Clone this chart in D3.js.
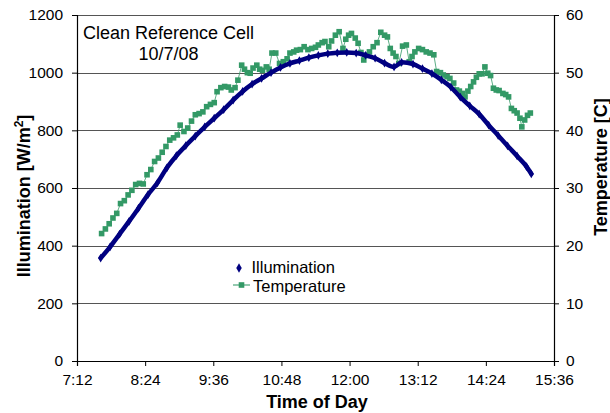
<!DOCTYPE html>
<html>
<head>
<meta charset="utf-8">
<script src="https://cdn.jsdelivr.net/npm/d3@7"></script>
<style>
  body { margin: 0; background: #fff; }
  svg { font-family: "Liberation Sans", Arial, sans-serif; }
  .tick text { font-size: 15.5px; fill: #000; }
  .axis-title { font-size: 18px; font-weight: bold; }
</style>
</head>
<body>
<div id="chart"></div>
<script>
// x tick labels (time of day)
const timeTicks = ["7:12", "8:24", "9:36", "10:48", "12:00", "13:12", "14:24", "15:36"];
const illumTicks = [0, 200, 400, 600, 800, 1000, 1200];
const tempTicks = [0, 10, 20, 30, 40, 50, 60];

// Illumination [W/m2]
const illumTimes = ["7:37", "7:47", "7:57", "8:07", "8:17", "8:27", "8:37", "8:47", "8:57", "9:07",
  "9:17", "9:27", "9:37", "9:47", "9:57", "10:07", "10:17", "10:27", "10:37", "10:47",
  "10:57", "11:07", "11:17", "11:27", "11:37", "11:47", "11:57", "12:07", "12:17", "12:27",
  "12:37", "12:47", "12:55", "13:07", "13:17", "13:27", "13:37", "13:47", "13:57", "14:07",
  "14:17", "14:27", "14:37", "14:47", "14:57", "15:07", "15:12"];
const illumValues = [357, 396, 440, 484, 530, 577, 618, 670, 712, 747,
  780, 812, 842, 872, 905, 935, 960, 980, 1000, 1018,
  1032, 1042, 1052, 1060, 1066, 1069, 1070, 1068, 1060, 1050,
  1033, 1020, 1036, 1030, 1014, 997, 975, 950, 915, 885,
  856, 818, 782, 746, 711, 674, 649];

// Temperature [C]
const tempTimes = ["7:38", "7:42", "7:46", "7:50", "7:54", "7:58", "8:02", "8:06", "8:10", "8:14",
  "8:18", "8:22", "8:26", "8:30", "8:34", "8:38", "8:42", "8:46", "8:50", "8:54",
  "8:58", "9:01", "9:05", "9:09", "9:13", "9:17", "9:21", "9:25", "9:29", "9:33",
  "9:37", "9:40", "9:44", "9:48", "9:52", "9:55", "9:59", "10:02", "10:06", "10:09",
  "10:12", "10:15", "10:18", "10:22", "10:25", "10:28", "10:32", "10:35", "10:38", "10:42",
  "10:46", "10:50", "10:54", "10:57", "11:01", "11:04", "11:08", "11:12", "11:16", "11:20",
  "11:24", "11:27", "11:31", "11:34", "11:38", "11:41", "11:45", "11:49", "11:53", "11:56",
  "11:59", "12:02", "12:06", "12:09", "12:12", "12:15", "12:18", "12:21", "12:25", "12:29",
  "12:33", "12:37", "12:40", "12:43", "12:46", "12:49", "12:52", "12:56", "13:00", "13:03",
  "13:06", "13:09", "13:13", "13:17", "13:21", "13:25", "13:29", "13:32", "13:36", "13:39",
  "13:43", "13:46", "13:50", "13:53", "13:56", "13:59", "14:02", "14:05", "14:08", "14:11",
  "14:14", "14:17", "14:20", "14:23", "14:26", "14:29", "14:32", "14:35", "14:38", "14:42",
  "14:45", "14:48", "14:51", "14:54", "14:57", "15:00", "15:02", "15:05", "15:08", "15:11"];
const tempValues = [22.1, 22.9, 23.8, 24.8, 25.6, 27.3, 27.8, 28.8, 29.6, 30.6,
  30.8, 30.7, 32.3, 33.2, 34.6, 35.2, 36.2, 37.2, 38.3, 38.7,
  39.2, 40.9, 39.8, 40.4, 41.6, 42.7, 42.9, 43.2, 44.1, 44.5,
  44.8, 46.7, 47.4, 47.6, 47.5, 47.0, 47.4, 48.7, 51.3, 50.6,
  50.0, 49.9, 50.8, 51.3, 50.6, 50.4, 51.0, 50.6, 53.4, 53.4,
  51.6, 51.9, 52.4, 53.4, 53.6, 53.9, 54.0, 54.5, 54.0, 54.2,
  54.4, 54.8, 55.2, 55.4, 54.5, 55.5, 56.5, 57.1, 54.2, 55.8,
  56.5, 56.8, 56.0, 55.1, 53.5, 52.2, 53.0, 53.6, 54.5, 55.2,
  57.0, 56.5, 56.2, 54.2, 53.4, 52.8, 51.6, 54.6, 54.8, 51.9,
  52.8, 53.6, 54.2, 54.0, 53.6, 53.4, 53.1, 50.2, 50.0, 49.6,
  49.3, 49.0, 48.2, 47.0, 46.8, 46.4, 45.8, 46.8, 47.6, 48.4,
  49.2, 49.8, 49.8, 51.0, 49.9, 49.5, 47.3, 47.0, 46.9, 46.4,
  46.2, 45.8, 43.8, 43.4, 43.0, 42.1, 40.6, 41.8, 42.6, 43.0];

const svgWidth = 610, svgHeight = 413;
const margin = { top: 15, right: 56, bottom: 52, left: 77 };
const width = svgWidth - margin.left - margin.right;
const height = svgHeight - margin.top - margin.bottom;

const parseTime = d3.timeParse("%H:%M");
const fmtTime = d3.timeFormat("%-H:%M");

const illumColor = "#000080";
const tempColor = "#339966";

const illumData = illumTimes.map((t, i) => ({ time: parseTime(t), value: illumValues[i] }));
const tempData = tempTimes.map((t, i) => ({ time: parseTime(t), value: tempValues[i] }));

const x = d3.scaleTime()
  .domain([parseTime(timeTicks[0]), parseTime(timeTicks[timeTicks.length - 1])])
  .range([0, width]);
const yL = d3.scaleLinear().domain([0, 1200]).range([height, 0]);
const yR = d3.scaleLinear().domain([0, 60]).range([height, 0]);

const svg = d3.select("#chart").append("svg")
  .attr("width", svgWidth)
  .attr("height", svgHeight);

const g = svg.append("g").attr("transform", `translate(${margin.left},${margin.top})`);

// gridlines
g.append("g")
  .selectAll("line")
  .data(illumTicks)
  .enter()
  .append("line")
  .attr("x1", 0)
  .attr("x2", width)
  .attr("y1", (d) => Math.round(yL(d)) + 0.5)
  .attr("y2", (d) => Math.round(yL(d)) + 0.5)
  .attr("stroke", "#555")
  .attr("stroke-width", 1);

// axes
const xAxisG = g.append("g")
  .attr("transform", `translate(0,${height})`)
  .call(d3.axisBottom(x)
    .tickValues(timeTicks.map(parseTime))
    .tickFormat(fmtTime)
    .tickSize(5)
    .tickPadding(8));

const yAxisL = g.append("g")
  .call(d3.axisLeft(yL).tickValues(illumTicks).tickFormat(d3.format("d")).tickSize(5).tickPadding(9));

const yAxisR = g.append("g")
  .attr("transform", `translate(${width},0)`)
  .call(d3.axisRight(yR).tickValues(tempTicks).tickFormat(d3.format("d")).tickSize(5).tickPadding(7));

[xAxisG, yAxisL, yAxisR].forEach((a) => {
  a.select(".domain").attr("stroke", "#000").attr("stroke-width", 1.2);
  a.selectAll(".tick line").attr("stroke", "#000");
  a.selectAll(".tick text").attr("font-family", null).attr("font-size", null);
  a.attr("font-family", null).attr("font-size", null);
});

// temperature line + square markers
const tempLine = d3.line()
  .x((d) => x(d.time))
  .y((d) => yR(d.value));

g.append("path")
  .datum(tempData)
  .attr("d", tempLine)
  .attr("fill", "none")
  .attr("stroke", tempColor)
  .attr("stroke-opacity", 0.8)
  .attr("stroke-width", 1);

g.append("g")
  .selectAll("rect")
  .data(tempData)
  .enter()
  .append("rect")
  .attr("x", (d) => x(d.time) - 2.8)
  .attr("y", (d) => yR(d.value) - 2.8)
  .attr("width", 5.6)
  .attr("height", 5.6)
  .attr("fill", tempColor);

// illumination: dense diamond markers, drawn as a heavy curve
const illumLine = d3.line()
  .curve(d3.curveMonotoneX)
  .x((d) => x(d.time))
  .y((d) => yL(d.value));

g.append("path")
  .datum(illumData)
  .attr("d", illumLine)
  .attr("fill", "none")
  .attr("stroke", illumColor)
  .attr("stroke-width", 4.5)
  .attr("stroke-linecap", "round");

const diamond = d3.symbol().type(d3.symbolDiamond).size(22);
g.append("g")
  .selectAll("path")
  .data(illumData)
  .enter()
  .append("path")
  .attr("d", diamond)
  .attr("transform", (d) => `translate(${x(d.time)},${yL(d.value)})`)
  .attr("fill", illumColor);

// title in plot
const title = g.append("text")
  .attr("text-anchor", "middle")
  .attr("font-size", 18);
title.append("tspan").attr("x", 91.5).attr("y", 23.5).text("Clean Reference Cell");
title.append("tspan").attr("x", 91.5).attr("y", 45).text("10/7/08");

// legend
const legend = g.append("g").attr("transform", "translate(162,253)");
legend.append("path")
  .attr("d", d3.symbol().type(d3.symbolDiamond).size(26))
  .attr("fill", illumColor);
legend.append("text")
  .attr("x", 12.5).attr("y", 5)
  .attr("font-size", 16.5)
  .text("Illumination");
legend.append("line")
  .attr("x1", -6).attr("x2", 11)
  .attr("y1", 17).attr("y2", 17)
  .attr("stroke", tempColor).attr("stroke-opacity", 0.7).attr("stroke-width", 1.5);
legend.append("rect")
  .attr("x", -0.3).attr("y", 14.2).attr("width", 5.6).attr("height", 5.6)
  .attr("fill", tempColor);
legend.append("text")
  .attr("x", 14).attr("y", 23.5)
  .attr("font-size", 16.5)
  .text("Temperature");

// axis titles
svg.append("text")
  .attr("class", "axis-title")
  .attr("text-anchor", "middle")
  .attr("x", 317)
  .attr("y", 408)
  .text("Time of Day");

const leftTitle = svg.append("text")
  .attr("class", "axis-title")
  .attr("text-anchor", "middle")
  .attr("transform", "translate(30,196) rotate(-90)");
leftTitle.append("tspan").text("Illumination [W/m");
leftTitle.append("tspan").attr("dy", -7).attr("font-size", 12).text("2");
leftTitle.append("tspan").attr("dy", 7).text("]");

svg.append("text")
  .attr("class", "axis-title")
  .attr("text-anchor", "middle")
  .attr("transform", "translate(607,167) rotate(-90)")
  .text("Temperature [C]");
</script>
</body>
</html>
